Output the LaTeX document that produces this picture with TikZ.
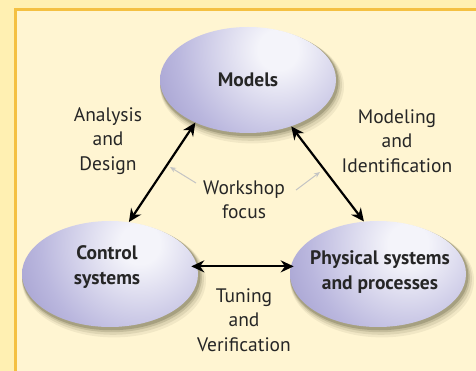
\documentclass[tikz,border=0pt]{standalone}
\usepackage{fontspec}
\setmainfont{PT Sans}
\usetikzlibrary{arrows.meta,shapes.geometric,calc}
\definecolor{outerbg}{RGB}{255,240,178}
\definecolor{innerbg}{RGB}{255,245,210}
\definecolor{frameline}{RGB}{244,192,66}
\definecolor{ballhl}{RGB}{244,244,250}
\definecolor{ballmid}{RGB}{186,183,222}
\definecolor{balledge}{RGB}{124,117,182}
\definecolor{shadowcol}{RGB}{60,58,30}
\definecolor{focusgray}{RGB}{196,196,196}
\pgfdeclareradialshading{ballshade}{\pgfpoint{0bp}{0bp}}{color(0bp)=(ballhl); color(4bp)=(ballhl); color(20bp)=(ballmid); color(42bp)=(balledge); color(50bp)=(balledge)}
\tikzset{
  ballfont/.style={font=\fontsize{19.5}{25}\selectfont\bfseries, align=center, text=black!85},
  ball/.style={ellipse, minimum width=176pt, minimum height=106pt, inner sep=0pt,
    ballfont,
    path picture={\shade[shading=ballshade] ($(path picture bounding box.center)+(30,-30)$) circle (125);}},
  lbl/.style={align=center, font=\fontsize{19.5}{24.5}\selectfont, text=black!85},
  bigarrow/.style={{Stealth[length=13pt,width=12pt]}-{Stealth[length=13pt,width=12pt]}, line width=2.2pt},
  focusarrow/.style={-{Stealth[length=6pt,width=5pt]}, line width=1pt, draw=focusgray}
}
\begin{document}
\begin{tikzpicture}[x=1pt,y=-1pt]
\useasboundingbox (0,0) rectangle (476,371);
\fill[outerbg] (0,0) rectangle (476,371);
\fill[innerbg] (15,10) rectangle (476,371);
\draw[frameline, line width=3pt] (15,371) -- (15,10) -- (476,10);
% shadows
\foreach \c/\o in {{248/80},{110/274},{378/274}}{
  \foreach \k/\op in {8/0.07,6/0.10,4/0.15,2.5/0.22}{
    \fill[shadowcol, opacity=\op] (\c+\k*0.5,\o+\k*0.8) ellipse ({88+\k*0.5} and {53+\k*0.5});
  }
}
\node[ball] (models) at (248,80) {Models};
\node[ball, label={[ballfont, yshift=7pt, xshift=-3pt]center:Control\\systems}] (control) at (110,274) {};
\node[ball, label={[ballfont, yshift=1.5pt, xshift=2pt]center:Physical systems\\and processes}] (phys) at (378,274) {};
\node[lbl] (ad) at (108,141) {Analysis\\and\\Design};
\node[lbl] (mi) at (397,141) {Modeling\\and\\Identification};
\node[lbl] (tv) at (244,320) {Tuning\\and\\Verification};
\node[lbl] (ws) at (244,200) {Workshop\\focus};
\coordinate (wsl) at (170,167);
\coordinate (wsr) at (320,172);
\draw[focusarrow] (196,183) -- (wsl);
\draw[focusarrow] (296,190) -- (wsr);
\draw[bigarrow] (control.70) -- (models.219);
\draw[bigarrow] (models.313) -- (phys.105);
\draw[bigarrow] ([xshift=-6pt]control.5) -- ([xshift=3pt]phys.175);
\end{tikzpicture}
\end{document}
